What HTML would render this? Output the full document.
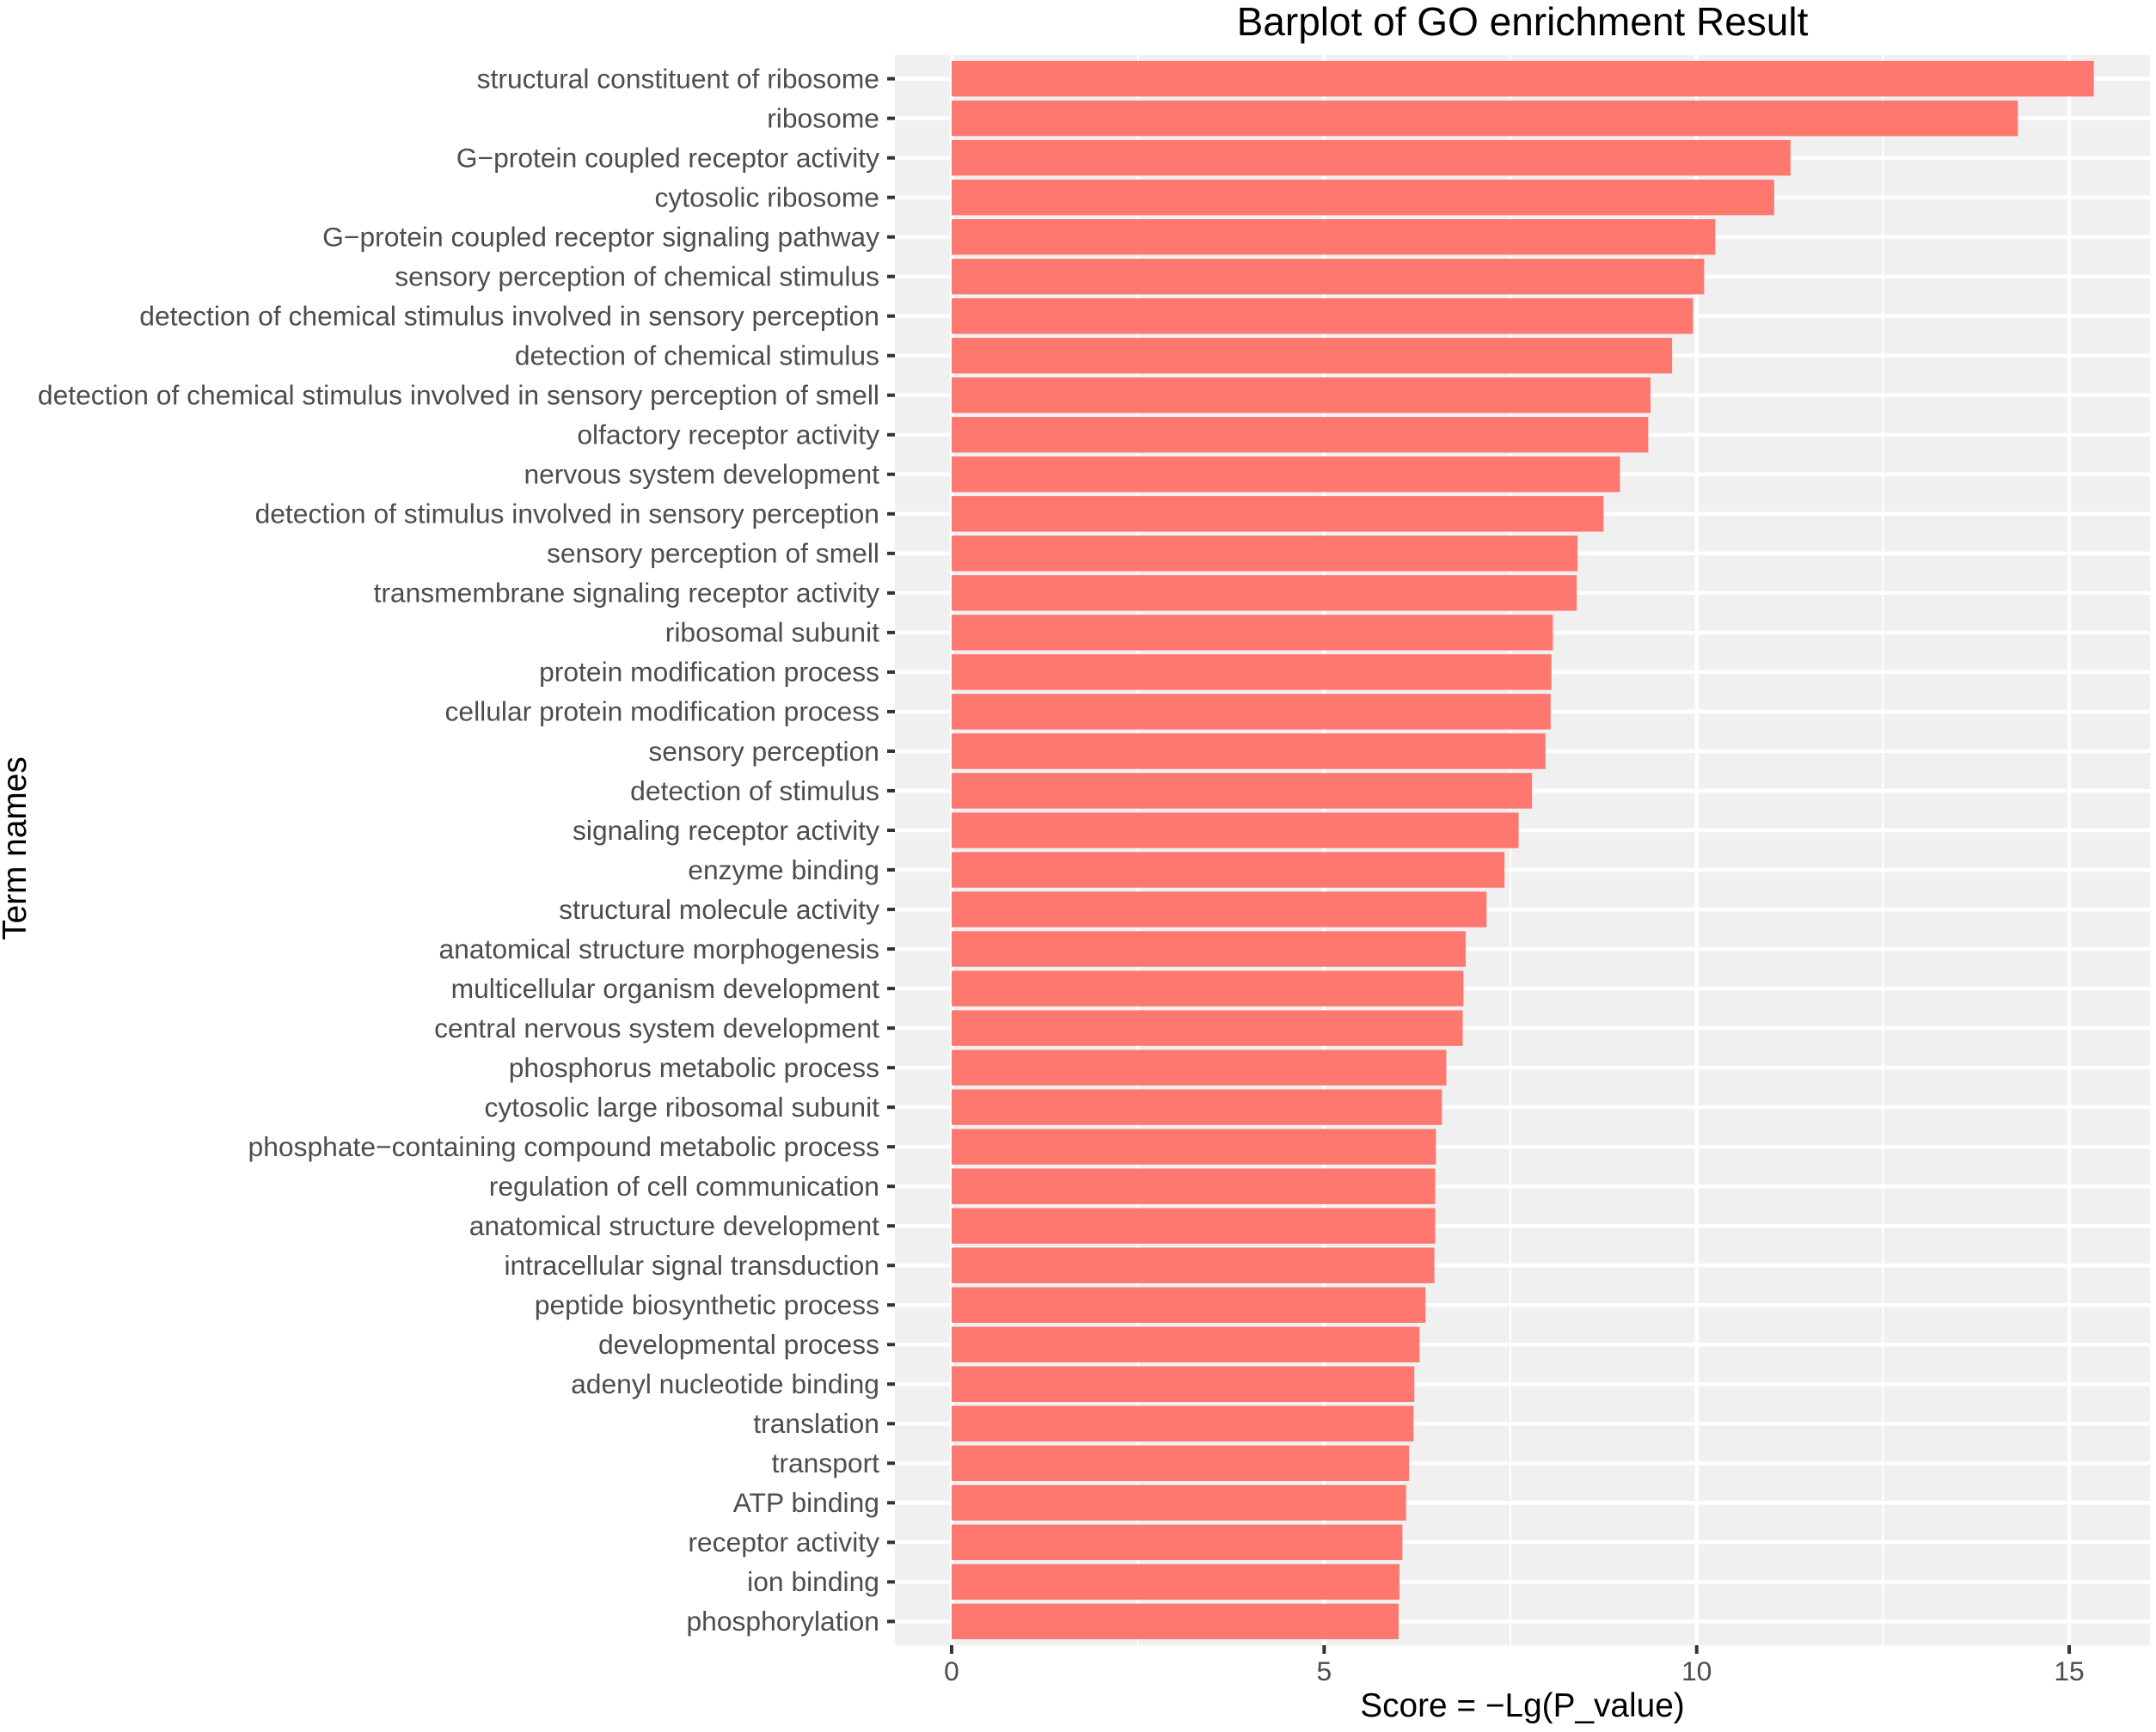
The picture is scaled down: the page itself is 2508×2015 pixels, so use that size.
<!DOCTYPE html>
<html lang="en">
<head>
<meta charset="utf-8">
<title>Barplot of GO enrichment Result</title>
<style>
  html, body { margin: 0; padding: 0; background: #ffffff; }
  #chart { display: block; width: 2508px; height: 2015px; }
  text { font-family: "Liberation Sans", Arial, sans-serif; }
</style>
</head>
<body>
<svg id="chart" xmlns="http://www.w3.org/2000/svg" width="2508" height="2015" viewBox="0 0 2508 2015">
  <rect x="0" y="0" width="2508" height="2015" fill="#ffffff"></rect>
  <rect x="1041" y="64" width="1460" height="1850" fill="#f0f0f0"></rect>
  <g id="grid"></g>
  <g id="bars"></g>
  <g id="y-axis"></g>
  <g id="x-axis"></g>
  <text x="1771" y="41" text-anchor="middle" font-size="46" fill="#000000">Barplot of GO enrichment Result</text>
  <text x="1771" y="1997" text-anchor="middle" font-size="38.8" fill="#000000">Score = −Lg(P_value)</text>
  <text transform="translate(30 987) rotate(-90)" text-anchor="middle" font-size="38.8" fill="#000000">Term names</text>
</svg>
<script>
const categories = [
  "structural constituent of ribosome",
  "ribosome",
  "G−protein coupled receptor activity",
  "cytosolic ribosome",
  "G−protein coupled receptor signaling pathway",
  "sensory perception of chemical stimulus",
  "detection of chemical stimulus involved in sensory perception",
  "detection of chemical stimulus",
  "detection of chemical stimulus involved in sensory perception of smell",
  "olfactory receptor activity",
  "nervous system development",
  "detection of stimulus involved in sensory perception",
  "sensory perception of smell",
  "transmembrane signaling receptor activity",
  "ribosomal subunit",
  "protein modification process",
  "cellular protein modification process",
  "sensory perception",
  "detection of stimulus",
  "signaling receptor activity",
  "enzyme binding",
  "structural molecule activity",
  "anatomical structure morphogenesis",
  "multicellular organism development",
  "central nervous system development",
  "phosphorus metabolic process",
  "cytosolic large ribosomal subunit",
  "phosphate−containing compound metabolic process",
  "regulation of cell communication",
  "anatomical structure development",
  "intracellular signal transduction",
  "peptide biosynthetic process",
  "developmental process",
  "adenyl nucleotide binding",
  "translation",
  "transport",
  "ATP binding",
  "receptor activity",
  "ion binding",
  "phosphorylation"
];
const scores = [
  15.33, 14.31, 11.26, 11.04, 10.25, 10.10, 9.95, 9.67, 9.38, 9.35,
  8.97, 8.75, 8.40, 8.39, 8.07, 8.05, 8.04, 7.97, 7.79, 7.61,
  7.42, 7.18, 6.90, 6.87, 6.86, 6.64, 6.58, 6.50, 6.49, 6.49,
  6.48, 6.36, 6.28, 6.21, 6.20, 6.14, 6.10, 6.05, 6.01, 6.00
];
const xTicks = [0, 5, 10, 15];
const xMinorTicks = [2.5, 7.5, 12.5];

const NS = "http://www.w3.org/2000/svg";
const PANEL_LEFT = 1041, PANEL_RIGHT = 2501, PANEL_TOP = 64, PANEL_BOTTOM = 1914;
const STEP = (PANEL_BOTTOM - PANEL_TOP) / 40.2;

function xScale(v) { return 1107 + v * 86.67; }
function yScale(i) { return PANEL_TOP + (i + 0.6) * STEP; }

function make(tag, attrs, parent) {
  const el = document.createElementNS(NS, tag);
  for (const k in attrs) el.setAttribute(k, attrs[k]);
  parent.appendChild(el);
  return el;
}

const grid = document.getElementById("grid");
const barsGroup = document.getElementById("bars");
const yAxis = document.getElementById("y-axis");
const xAxis = document.getElementById("x-axis");

xMinorTicks.forEach(function (t) {
  const line = make("line", { x1: xScale(t), x2: xScale(t), y1: PANEL_TOP, y2: PANEL_BOTTOM, stroke: "#ffffff", "stroke-width": 2 }, grid);
  
  
});
xTicks.forEach(function (t) {
  const line = make("line", { x1: xScale(t), x2: xScale(t), y1: PANEL_TOP, y2: PANEL_BOTTOM, stroke: "#ffffff", "stroke-width": 4.4 }, grid);
  
  
});
categories.forEach(function (c, i) {
  const line = make("line", { x1: PANEL_LEFT, x2: PANEL_RIGHT, y1: yScale(i), y2: yScale(i), stroke: "#ffffff", "stroke-width": 4.4 }, grid);
  
  
});

scores.forEach(function (v, i) {
  const h = STEP * 0.9;
  const bar = make("rect", { x: xScale(0), y: yScale(i) - h / 2, width: xScale(v) - xScale(0), height: h, fill: "#fe7870" }, barsGroup);
  
  
});

categories.forEach(function (c, i) {
  const tick = make("line", { x1: 1032, x2: PANEL_LEFT, y1: yScale(i), y2: yScale(i), stroke: "#333333", "stroke-width": 4 }, yAxis);
  
  
  const label = make("text", { x: 1023, y: yScale(i) + 10.8, "text-anchor": "end", "font-size": 31.8, fill: "#4d4d4d" }, yAxis);
  label.textContent = c;
  
  
});

xTicks.forEach(function (t) {
  const tick = make("line", { x1: xScale(t), x2: xScale(t), y1: PANEL_BOTTOM, y2: PANEL_BOTTOM + 10, stroke: "#333333", "stroke-width": 4 }, xAxis);
  
  
  const label = make("text", { x: xScale(t), y: 1955, "text-anchor": "middle", "font-size": 31.8, fill: "#4d4d4d" }, xAxis);
  label.textContent = String(t);
  
  
});
</script>
</body>
</html>
